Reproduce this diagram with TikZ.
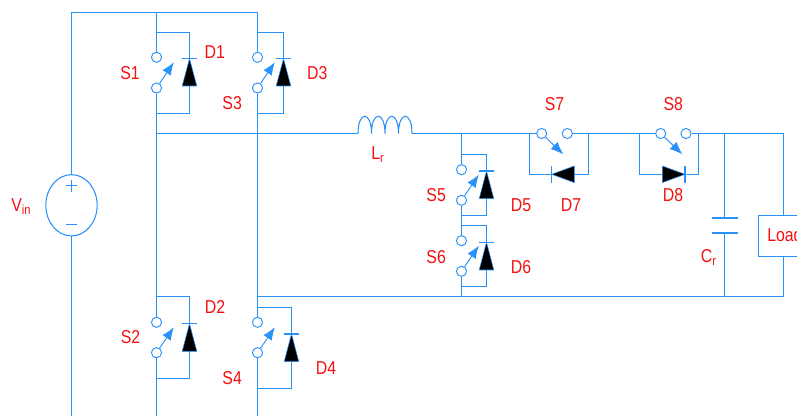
\documentclass[tikz,border=0pt]{standalone}
\usepackage{fontspec}
\setmainfont[FakeStretch=0.85]{Liberation Sans}
\usetikzlibrary{arrows.meta,shapes.geometric}
\definecolor{wire}{RGB}{40,145,250}
\definecolor{lab}{RGB}{245,15,15}
\tikzset{
  wireline/.style={draw=wire,line width=0.8pt},
  contact/.style={circle,draw=wire,line width=0.7pt,minimum size=7.6pt,inner sep=0pt},
  armline/.style={draw=wire,line width=0.7pt,-{Latex[length=9.5pt,width=7.5pt]}},
  diodefill/.style={fill=black,draw=wire,line width=0.4pt},
  lbl/.style={text=lab,font=\fontsize{14}{16}\selectfont,inner sep=0pt},
  lblb/.style={lbl,anchor=base west},
  srcshape/.style={ellipse,draw=wire,line width=0.8pt,minimum width=38.5pt,minimum height=46pt,inner sep=0pt}
}
\newcommand{\vsw}[4]{%
  \node[contact] (#1a) at (#2,#3) {};
  \node[contact] (#1b) at (#2,#4) {};
  \coordinate (#1t) at ({#2+17.3},{#3+5});
  \draw[armline] (#1b) -- (#1t);
}
\newcommand{\vdio}[7]{%
  \coordinate (#1tl) at (#2,#4);
  \coordinate (#1tr) at (#3,#4);
  \coordinate (#1bl) at (#2,#5);
  \coordinate (#1br) at (#3,#5);
  \coordinate (#1bar) at (#3,#6);
  \coordinate (#1base) at (#3,#7);
  \draw[wireline] (#1tl) -- (#1tr) -- (#1bar);
  \draw[wireline] (#1base) -- (#1br) -- (#1bl);
  \draw[wireline] ({#3-7.5},#6) -- ({#3+7.5},#6);
  \path[diodefill] (#1bar) -- ({#3+7.3},#7) -- ({#3-7.3},#7) -- cycle;
}
\newcommand{\hsw}[8]{%
  \node[contact] (#1a) at (#2,133.5) {};
  \node[contact] (#1b) at (#3,133.5) {};
  \coordinate (#1t) at (#6,154.3);
  \draw[armline] (#1a) -- (#1t);
  \coordinate (#1tl) at (#4,133.5);
  \coordinate (#1tr) at (#5,133.5);
  \coordinate (#1bl) at (#4,174.3);
  \coordinate (#1br) at (#5,174.3);
  \draw[wireline] (#1tl) -- (#1bl) -- (#1br) -- (#1tr);
  \path[diodefill] (#7,174.3) -- (#8,166) -- (#8,182.6) -- cycle;
  \draw[wireline] (#7,165.8) -- (#7,183);
}
\begin{document}
\begin{tikzpicture}[x=0.75pt,y=-0.75pt]
\useasboundingbox (0,0) rectangle (797,416);
\clip (0,0) rectangle (797,416);

% rails and corners
\coordinate (tl) at (71.5,12.5);
\coordinate (ts1) at (156.5,12.5);
\coordinate (ts3) at (257.5,12.5);
\coordinate (bv) at (71.5,416);
\coordinate (b1) at (156.5,416);
\coordinate (b3) at (257.5,416);
\coordinate (m1) at (156.5,133.5);
\coordinate (m3) at (257.5,133.5);
\coordinate (l1) at (358,133.5);
\coordinate (l2) at (371.5,133.5);
\coordinate (l3) at (385,133.5);
\coordinate (l4) at (398.5,133.5);
\coordinate (l5) at (412,133.5);
\coordinate (m5) at (461.5,133.5);
\coordinate (r3) at (257.5,296.5);
\coordinate (r5) at (461.5,296.5);
\coordinate (rc) at (724.5,296.5);
\coordinate (rl) at (783.5,296.5);
\coordinate (tc) at (724.5,133.5);
\coordinate (tr) at (783.5,133.5);

% source
\node[srcshape] (vin) at (71.5,205.3) {};
\draw[wireline] (vin.north) -- (tl) -- (ts3);
\draw[wireline] (vin.south) -- (bv);
\draw[wire,line width=0.8pt] (71.5,180.5) -- (71.5,192) (65.5,185.5) -- (76.5,185.5);
\draw[wire,line width=0.8pt] (65.5,224.5) -- (76.5,224.5);

% bridge switches
\vsw{sa}{156.5}{57.3}{88}
\vsw{sc}{257.5}{57.3}{88}
\vsw{sb}{156.5}{322.3}{352.7}
\vsw{sd}{257.5}{322.3}{352.7}
\vdio{da}{156.5}{189.5}{32.5}{113.5}{58.7}{86}
\vdio{dc}{257.5}{283.5}{32.5}{113.5}{58.7}{86}
\vdio{db}{156.5}{189.5}{296.5}{378.5}{323.7}{351.3}
\vdio{dd}{257.5}{291.5}{307.5}{388.5}{334}{361.7}
\draw[wireline] (ts1) -- (saa);
\draw[wireline] (sab) -- (sba);
\draw[wireline] (sbb) -- (b1);
\draw[wireline] (ts3) -- (sca);
\draw[wireline] (scb) -- (sda);
\draw[wireline] (sdb) -- (b3);

% mid rail and inductor
\draw[wireline] (m1) -- (l1);
\draw[wireline] (l1) .. controls (358,110.5) and (371.5,110.5) .. (l2)
                (l2) .. controls (371.5,110.5) and (385,110.5) .. (l3)
                (l3) .. controls (385,110.5) and (398.5,110.5) .. (l4)
                (l4) .. controls (398.5,110.5) and (412,110.5) .. (l5);

% shunt switches
\vsw{se}{461.5}{169.7}{200.3}
\vsw{sf}{461.5}{240.7}{271.3}
\vdio{de}{461.5}{486.5}{154.5}{215.5}{171}{198.7}
\vdio{df}{461.5}{486.5}{225.5}{286.5}{242.3}{270}
\draw[wireline] (m5) -- (sea);
\draw[wireline] (seb) -- (sfa);
\draw[wireline] (sfb) -- (r5);

% series switches
\hsw{sg}{541.7}{567.3}{529.5}{588.5}{563.3}{551.7}{574.3}
\hsw{sh}{660.7}{686}{639.5}{698.5}{682.3}{685}{662.3}
\draw[wireline] (l5) -- (sga);
\draw[wireline] (sgb) -- (sha);
\draw[wireline] (shb) -- (tr);

% bottom rail
\draw[wireline] (r3) -- (rl);

% capacitor
\coordinate (cp1) at (724.5,218);
\coordinate (cp2) at (724.5,233);
\draw[wireline] (tc) -- (cp1) (cp2) -- (rc);
\draw[wireline] (711.5,218) -- (737.5,218) (711.5,233) -- (737.5,233);

% load
\coordinate (lt) at (783.5,215.5);
\coordinate (lb) at (783.5,256.5);
\draw[wireline] (tr) -- (lt) (lb) -- (rl);
\draw[wireline] (800,215.5) -- (758.5,215.5) -- (758.5,256.5) -- (800,256.5);
\node[lblb] (load) at (767,242) {Load};

% labels
\node[lbl] (ls1) at (130,72.7) {S1};
\node[lbl] (ld1) at (214.7,52) {D1};
\node[lbl] (ld3) at (317.2,72.7) {D3};
\node[lbl] (ls3) at (232.2,103) {S3};
\node[lbl] (ld2) at (215,307) {D2};
\node[lbl] (ls2) at (130.5,337) {S2};
\node[lbl] (ls4) at (232.2,378) {S4};
\node[lbl] (ld4) at (326,368) {D4};
\node[lbl] (ls5) at (436.2,195) {S5};
\node[lbl] (ls6) at (436.2,256.7) {S6};
\node[lbl] (ld5) at (521,205) {D5};
\node[lbl] (ld6) at (521,266.7) {D6};
\node[lbl] (ls7) at (554.5,104) {S7};
\node[lbl] (ls8) at (673.3,104) {S8};
\node[lbl] (ld7) at (571,205) {D7};
\node[lbl] (ld8) at (673,195.3) {D8};
\node[lblb] (lcr) at (700.7,262.7) {C\textsubscript{r}};
\node[lblb] (llr) at (371,160) {L\textsubscript{r}};
\node[lblb] (lvin) at (11,211.7) {V\textsubscript{in}};
\end{tikzpicture}
\end{document}
